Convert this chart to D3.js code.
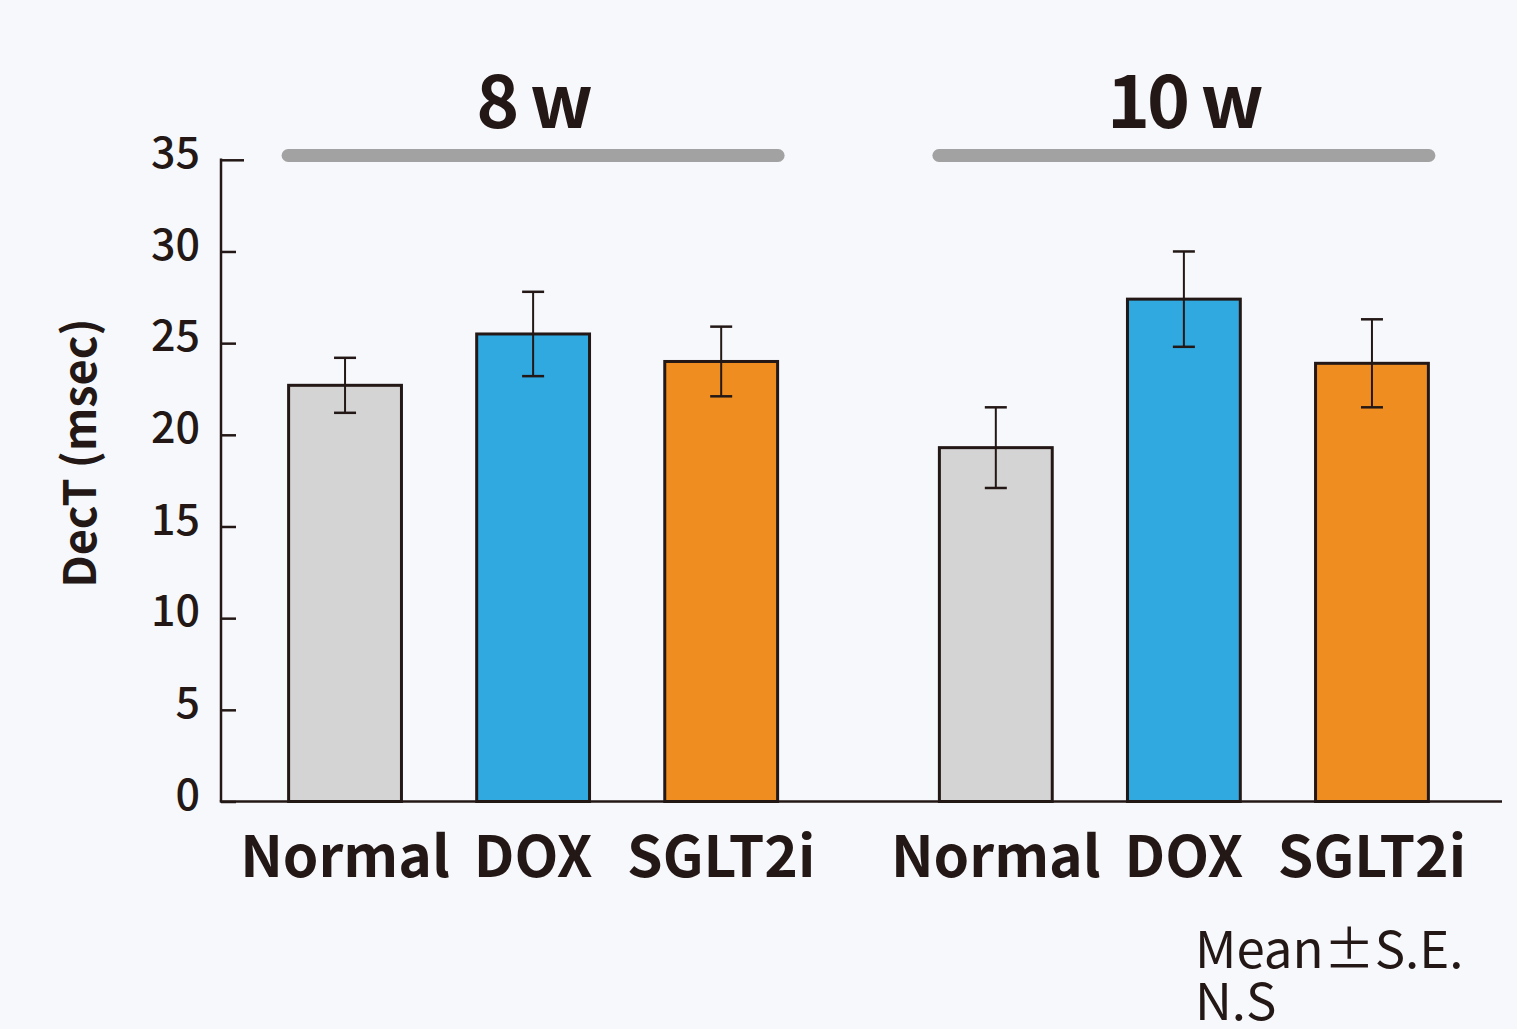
<!DOCTYPE html>
<html>
<head>
<meta charset="utf-8">
<script src="https://cdn.jsdelivr.net/npm/d3@7"></script>
<style>
  html, body { margin: 0; padding: 0; background: #f7f8fc; }
  svg { display: block; font-family: "Noto Sans CJK JP", "Noto Sans", sans-serif; }
</style>
</head>
<body>
<div id="chart_parent"></div>
<script>
// values
const groups = ['8 w', '10 w'];
const categories = ['Normal', 'DOX', 'SGLT2i'];
const meanValues = [
    [22.7, 25.5, 24.0],
    [19.3, 27.4, 23.9],
];
const seValues = [
    [1.5, 2.3, 1.9],
    [2.2, 2.6, 2.4],
];
const yTicks = [0, 5, 10, 15, 20, 25, 30, 35];
const notes = ['Mean\u00b1S.E.', 'N.S'];

const chartConfig = {
    outerWidth: 1517,
    outerHeight: 1029,
    axisX: 221,
    axisBottom: 801.5,
    axisTop: 159.8,
    axisRight: 1502,
    colors: ['#d4d4d4', '#30a8e0', '#f08d20'],
    ink: '#231815',
    font: '"Noto Sans CJK JP", "Noto Sans", sans-serif',
};

function drawChart(rootSelector, config) {
    const svg = d3.select(rootSelector).append('svg')
        .attr('width', config.outerWidth)
        .attr('height', config.outerHeight);

    svg.append('rect')
        .attr('width', config.outerWidth)
        .attr('height', config.outerHeight)
        .attr('fill', '#f7f8fc');

    const yScale = d3.scaleLinear()
        .domain([0, 35])
        .range([config.axisBottom, config.axisTop]);

    const groupScale = d3.scaleBand()
        .domain(groups)
        .range([251, 1466])
        .paddingInner(0.133);

    const catScale = d3.scaleBand()
        .domain(categories)
        .range([0, groupScale.bandwidth()])
        .paddingInner(0.4)
        .paddingOuter(0.2);

    // y axis
    const yAxis = d3.axisLeft(yScale)
        .tickValues(yTicks)
        .tickSize(15)
        .tickPadding(20);

    const yAxisGroup = svg.append('g')
        .attr('transform', `translate(${config.axisX},0)`)
        .attr('font-family', config.font)
        .call(yAxis)
        .attr('font-family', config.font);

    yAxisGroup.select('.domain').remove();
    yAxisGroup.selectAll('.tick line')
        .attr('x1', 0)
        .attr('x2', d => (d === 35 ? 23 : 15))
        .attr('stroke', config.ink)
        .attr('stroke-width', 2.5);
    yAxisGroup.selectAll('.tick text')
        .attr('fill', config.ink)
        .attr('x', -21)
        .attr('dy', '0.18em')
        .style('font-size', '43px')
        .style('font-weight', 500);

    svg.append('line')
        .attr('x1', config.axisX).attr('x2', config.axisX)
        .attr('y1', yScale(35) - 1.25).attr('y2', config.axisBottom)
        .attr('stroke', config.ink)
        .attr('stroke-width', 2.5);

    svg.append('text')
        .attr('transform', 'translate(96,453) rotate(-90)')
        .attr('text-anchor', 'middle')
        .attr('fill', config.ink)
        .style('font-size', '45px')
        .style('font-weight', 700)
        .text('DecT (msec)');

    // groups
    const gEl = svg.selectAll('.grp')
        .data(groups)
        .join('g')
        .attr('class', 'grp')
        .attr('transform', d => `translate(${groupScale(d)},0)`);

    const mid = groupScale.bandwidth() / 2;

    gEl.append('line')
        .attr('x1', mid - 245).attr('x2', mid + 245)
        .attr('y1', 155.5).attr('y2', 155.5)
        .attr('stroke', '#a2a2a2')
        .attr('stroke-width', 13)
        .attr('stroke-linecap', 'round');

    gEl.append('text')
        .attr('x', mid)
        .attr('y', 128)
        .attr('text-anchor', 'middle')
        .attr('fill', config.ink)
        .style('font-size', '73px')
        .style('font-weight', 700)
        .style('letter-spacing', '-3px')
        .text(d => d);

    const bars = gEl.selectAll('.bar')
        .data((g, gi) => categories.map((c, ci) => ({
            cat: c, ci, mean: meanValues[gi][ci], se: seValues[gi][ci],
        })))
        .join('g')
        .attr('class', 'bar');

    bars.append('rect')
        .attr('x', d => catScale(d.cat))
        .attr('y', d => yScale(d.mean))
        .attr('width', catScale.bandwidth())
        .attr('height', d => config.axisBottom - yScale(d.mean))
        .attr('fill', d => config.colors[d.ci])
        .attr('stroke', config.ink)
        .attr('stroke-width', 3);

    const cx = d => catScale(d.cat) + catScale.bandwidth() / 2;

    bars.append('line')
        .attr('x1', cx).attr('x2', cx)
        .attr('y1', d => yScale(d.mean - d.se))
        .attr('y2', d => yScale(d.mean + d.se))
        .attr('stroke', config.ink)
        .attr('stroke-width', 2);

    [-1, 1].forEach(sign => {
        bars.append('line')
            .attr('x1', d => cx(d) - 11).attr('x2', d => cx(d) + 11)
            .attr('y1', d => yScale(d.mean + sign * d.se))
            .attr('y2', d => yScale(d.mean + sign * d.se))
            .attr('stroke', config.ink)
            .attr('stroke-width', 2.5);
    });

    gEl.selectAll('.cat-label')
        .data(categories)
        .join('text')
        .attr('class', 'cat-label')
        .attr('x', d => catScale(d) + catScale.bandwidth() / 2)
        .attr('y', 877)
        .attr('text-anchor', 'middle')
        .attr('fill', config.ink)
        .style('font-size', '57px')
        .style('font-weight', 700)
        .text(d => d);

    // x axis baseline
    svg.append('line')
        .attr('x1', config.axisX - 1.25).attr('x2', config.axisRight)
        .attr('y1', config.axisBottom).attr('y2', config.axisBottom)
        .attr('stroke', config.ink)
        .attr('stroke-width', 2.5);

    svg.selectAll('.note')
        .data(notes)
        .join('text')
        .attr('class', 'note')
        .attr('x', 1195)
        .attr('y', (d, i) => 968 + i * 52)
        .attr('fill', config.ink)
        .style('font-size', '51px')
        .style('font-weight', 400)
        .text(d => d);
}

drawChart('#chart_parent', chartConfig);
</script>
</body>
</html>
